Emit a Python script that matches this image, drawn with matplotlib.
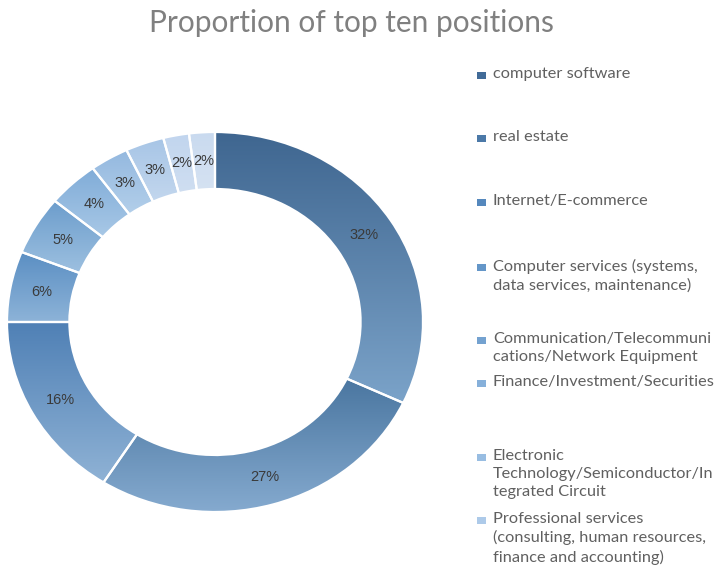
import numpy as np
import matplotlib
matplotlib.use('Agg')

import matplotlib.pyplot as plt
from matplotlib.patches import Rectangle
from matplotlib.colors import to_rgb

# share of each position (percent), clockwise from 12 o'clock
shares = [32, 27, 16, 6, 5, 4, 3, 3, 2, 2]

positions = [
    "computer software",
    "real estate",
    "Internet/E-commerce",
    "Computer services (systems,\ndata services, maintenance)",
    "Communication/Telecommuni\ncations/Network Equipment",
    "Finance/Investment/Securities",
    "Electronic\nTechnology/Semiconductor/In\ntegrated Circuit",
    "Professional services\n(consulting, human resources,\nfinance and accounting)",
]

# each slice fades from a darker top to a lighter bottom
top_colors = ["#3f6690", "#4a76a0", "#4f80b5", "#5b8fc3", "#6c9dcc",
              "#80acd8", "#93b8df", "#a7c5e6", "#c1d5ee", "#c9daef"]
bottom_colors = ["#7ba3c9", "#85aacf", "#8fb2d5", "#8db3d8", "#9dc0e0",
                 "#a8c8e6", "#b3cfea", "#c3d7ee", "#cfdef1", "#d5e2f2"]
legend_colors = ["#416b98", "#4b79a8", "#5588bd", "#6496c8", "#74a2d0",
                 "#86b0da", "#98bde2", "#adcae9"]

# first-line height of each legend entry, in pixels from the top
legend_rows = [75, 138, 202, 267, 340, 383, 457, 520]

W, H = 726, 567
fig = plt.figure(figsize=(W / 100, H / 100), dpi=100)
ax = fig.add_axes([7 / W, 1 - 512 / H, 416 / W, 380 / H])

wedges, texts, autotexts = ax.pie(
    shares, startangle=90, counterclock=False, radius=1.0,
    autopct='%d%%', pctdistance=0.85,
    wedgeprops=dict(width=0.3, edgecolor='white', linewidth=1.6),
    textprops=dict(fontsize=10.5, color='#3a3a3a', family='Liberation Sans'),
)

# vertical gradient fill clipped to each wedge
for w, c_top, c_bot in zip(wedges, top_colors, bottom_colors):
    ext = w.get_path().get_extents()
    t = np.linspace(0, 1, 256)[:, None]
    grad = (1 - t) * np.array(to_rgb(c_bot)) + t * np.array(to_rgb(c_top))
    img = ax.imshow(grad[:, None, :], extent=[ext.x0, ext.x1, ext.y0, ext.y1],
                    origin='lower', aspect='auto', interpolation='bilinear',
                    zorder=0.5)
    img.set_clip_path(w)
    w.set_facecolor('none')
    w.set_zorder(1)

ax.set_aspect('auto')
ax.set_xlim(-1, 1)
ax.set_ylim(-1, 1)
ax.axis('off')

fig.text(351 / W, 1 - 23 / H, "Proportion of top ten positions",
         ha='center', va='center', fontsize=21.5, color='#808080', family='Lato')

for label, color, row in zip(positions, legend_colors, legend_rows):
    fig.add_artist(Rectangle((477 / W, 1 - (row + 3.5) / H), 9 / W, 7 / H,
                             transform=fig.transFigure, facecolor=color,
                             edgecolor='none'))
    fig.text(493 / W, 1 - (row - 8) / H, label, ha='left', va='top',
             fontsize=11.8, color='#606060', family='Lato', linespacing=1.36)

fig.savefig('out.png', dpi=100)
